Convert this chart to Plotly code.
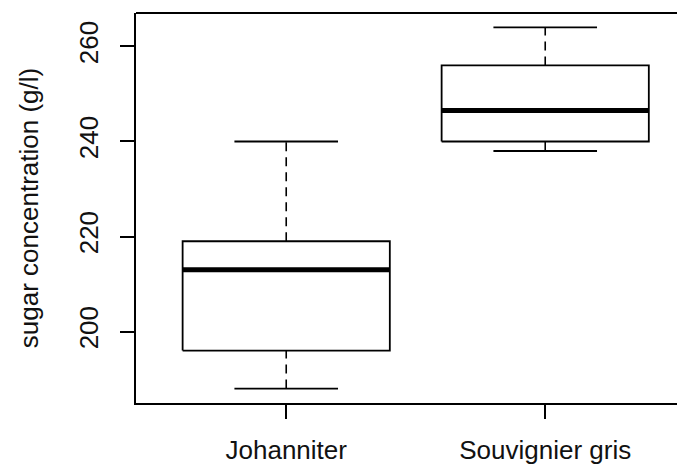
import plotly.graph_objects as go

categories = ["Johanniter", "Souvignier gris"]
lower_whisker = [188, 238]
q1 = [196, 240]
median = [213, 246.5]
q3 = [219, 256]
upper_whisker = [240, 264]
y_ticks = [200, 220, 240, 260]

FONT = "Liberation Sans, Arial, sans-serif"
fig = go.Figure()
HB = 0.4   # half box width (boxwex 0.8)
HC = 0.2   # half staple width

for i, cat in enumerate(categories):
    c = i + 1
    # dashed whiskers
    fig.add_trace(go.Scatter(
        x=[c, c, None, c, c],
        y=[lower_whisker[i], q1[i], None, q3[i], upper_whisker[i]],
        mode="lines", line=dict(color="black", width=1.6, dash="9px,6px"),
        hoverinfo="skip", showlegend=False))
    # staples
    fig.add_trace(go.Scatter(
        x=[c - HC, c + HC, None, c - HC, c + HC],
        y=[lower_whisker[i], lower_whisker[i], None, upper_whisker[i], upper_whisker[i]],
        mode="lines", line=dict(color="black", width=1.8),
        hoverinfo="skip", showlegend=False))
    # box
    fig.add_trace(go.Scatter(
        x=[c - HB, c + HB, c + HB, c - HB, c - HB],
        y=[q1[i], q1[i], q3[i], q3[i], q1[i]],
        mode="lines", line=dict(color="black", width=1.8),
        hoverinfo="skip", showlegend=False))
    # median
    fig.add_trace(go.Scatter(
        x=[c - HB, c + HB],
        y=[median[i], median[i]],
        mode="lines", line=dict(color="black", width=5),
        hoverinfo="skip", showlegend=False))

# page body has an 8px margin, so the figure is drawn from (8, 8)
W, H = 677, 463
ml, mt, mb = 128, 5, 68
px_per_unit = 259.0
x_lo = 0.42
x_hi = x_lo + (W - ml) / px_per_unit

fig.update_layout(
    width=W, height=H,
    margin=dict(l=ml, r=0, t=mt, b=mb),
    paper_bgcolor="white", plot_bgcolor="white",
    font=dict(family=FONT, size=26, color="black"),
    xaxis=dict(range=[x_lo, x_hi], tickvals=[1, 2], ticktext=categories,
               automargin=False,
               showgrid=False, zeroline=False, showline=True, linecolor="black",
               linewidth=1.8, ticks="outside", ticklen=14, tickwidth=1.6,
               tickcolor="black", ticklabelstandoff=9,
               tickfont=dict(family=FONT, size=26, color="#111")),
    yaxis=dict(range=[184.96, 267.04], tickvals=y_ticks,
               ticktext=[str(v) for v in y_ticks],
               automargin=False,
               showgrid=False, zeroline=False, showline=True, linecolor="black",
               linewidth=1.8, ticks="outside", ticklen=14, tickwidth=1.6,
               tickcolor="black", tickangle=-90, ticklabelstandoff=12,
               tickfont=dict(family=FONT, size=26, color="#111"),
               title=dict(text="sugar concentration (g/l)", standoff=28,
                          font=dict(family=FONT, size=26, color="#111"))),
    shapes=[dict(type="line", xref="paper", yref="paper", x0=0, x1=1, y0=1, y1=1,
                 line=dict(color="black", width=1.8))],
)

fig.write_html("out.html")
